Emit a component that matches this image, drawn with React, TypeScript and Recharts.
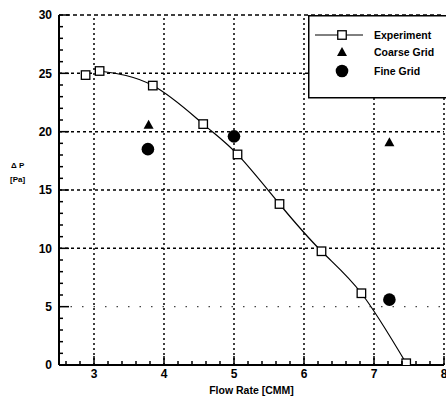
import React from 'react';
import { ComposedChart, Line, Scatter, XAxis, YAxis, ReferenceLine, Legend } from 'recharts';

const experimentX = [2.88, 3.08, 3.84, 4.56, 5.05, 5.65, 6.25, 6.82, 7.46];
const experimentY = [24.85, 25.2, 23.95, 20.65, 18.05, 13.8, 9.75, 6.15, 0.15];
const coarseX = [3.78, 7.22];
const coarseY = [20.6, 19.1];
const fineX = [3.77, 5.0, 7.22];
const fineY = [18.5, 19.6, 5.6];

const xGridLines = [3, 4, 5, 6, 7, 8];
const yGridLines = [5, 10, 15, 20, 25, 30];
const xTicks = Array.from({ length: 28 }, (_, i) => Math.round((2.6 + 0.2 * i) * 10) / 10);
const yTicks = Array.from({ length: 31 }, (_, i) => i);

const experimentData = experimentX.map((x, i) => ({ x, y: experimentY[i] }));
const experimentLooseData = experimentData.slice(0, 1);
const experimentLineData = experimentData.slice(1);
const coarseData = coarseX.map((x, i) => ({ x, y: coarseY[i] }));
const fineData = fineX.map((x, i) => ({ x, y: fineY[i] }));

const FONT = '"Liberation Sans", Arial, sans-serif';

const isInt = (v: number) => Math.abs(v - Math.round(v)) < 1e-6;

const XTick = (props: any) => {
  const { x, y, payload } = props;
  const v = payload.value;
  const major = isInt(v);
  return (
    <g>
      <line x1={x} y1={y} x2={x} y2={y - (major ? 9 : 4)} stroke="#000" strokeWidth={1.5} />
      {major && (
        <text x={x} y={y + 13} textAnchor="middle" fontFamily={FONT} fontWeight="bold" fontSize={12} fill="#000">
          {v}
        </text>
      )}
    </g>
  );
};

const YTick = (props: any) => {
  const { x, y, payload } = props;
  const v = payload.value;
  const major = v % 5 === 0;
  return (
    <g>
      <line x1={x} y1={y} x2={x + (major ? 10 : 4)} y2={y} stroke="#000" strokeWidth={1.5} />
      {major && (
        <text x={x - 7} y={y + 4.3} textAnchor="end" fontFamily={FONT} fontWeight="bold" fontSize={12} fill="#000">
          {v}
        </text>
      )}
    </g>
  );
};

const SQ = 8.5;

const SquareDot = (props: any) => {
  const { cx, cy, index } = props;
  if (cx == null || cy == null) return <g key={`sq-${index}`} />;
  return <rect key={`sq-${index}`} x={cx - SQ / 2} y={cy - SQ / 2} width={SQ} height={SQ} fill="#fff" stroke="#000" strokeWidth={1.3} />;
};

const SquareShape = (props: any) => {
  const { cx, cy } = props;
  return <rect x={cx - SQ / 2} y={cy - SQ / 2} width={SQ} height={SQ} fill="#fff" stroke="#000" strokeWidth={1.3} />;
};

const TriangleShape = (props: any) => {
  const { cx, cy } = props;
  return <polygon points={`${cx},${cy - 5} ${cx - 5},${cy + 4} ${cx + 5},${cy + 4}`} fill="#000" />;
};

const CircleShape = (props: any) => {
  const { cx, cy } = props;
  return <circle cx={cx} cy={cy} r={6.3} fill="#000" />;
};

const LegendBox = () => (
  <svg width={140} height={84} style={{ display: 'block' }}>
    <rect x={0.75} y={0.75} width={150} height={82} fill="#fff" stroke="#000" strokeWidth={1.5} />
    <line x1={7} y1={20} x2={55} y2={20} stroke="#000" strokeWidth={1} />
    <rect x={29.75} y={15.75} width={SQ} height={SQ} fill="#fff" stroke="#000" strokeWidth={1.3} />
    <text x={66} y={24} fontFamily={FONT} fontWeight="bold" fontSize={10.5} fill="#000">Experiment</text>
    <polygon points="34,32 29,41 39,41" fill="#000" />
    <text x={66} y={41} fontFamily={FONT} fontWeight="bold" fontSize={10.5} fill="#000">Coarse Grid</text>
    <circle cx={34} cy={56} r={6.3} fill="#000" />
    <text x={66} y={60} fontFamily={FONT} fontWeight="bold" fontSize={10.5} fill="#000">Fine Grid</text>
  </svg>
);

export default function App() {
  return (
    <div style={{ position: 'absolute', left: 0, top: 0, width: 446, height: 398, background: '#fff' }}>
      <ComposedChart width={446} height={398} margin={{ top: 15, right: 2, bottom: 0, left: 0 }}>
        <XAxis
          type="number"
          dataKey="x"
          domain={[2.5, 8]}
          allowDataOverflow
          ticks={xTicks}
          interval={0}
          tickSize={0}
          tickMargin={0}
          tickLine={false}
          tick={<XTick />}
          height={33}
          axisLine={{ stroke: '#000', strokeWidth: 2 }}
          label={{
            content: (p: any) => {
              const vb = p.viewBox;
              return (
                <text x={vb.x + vb.width / 2} y={vb.y + 29} textAnchor="middle" fontFamily={FONT} fontWeight="bold" fontSize={10.5} fill="#000">
                  Flow Rate [CMM]
                </text>
              );
            },
          }}
        />
        <YAxis
          type="number"
          dataKey="y"
          domain={[0, 30]}
          allowDataOverflow
          ticks={yTicks}
          interval={0}
          tickSize={0}
          tickMargin={0}
          tickLine={false}
          tick={<YTick />}
          width={59}
          axisLine={{ stroke: '#000', strokeWidth: 2 }}
          label={{
            content: () => (
              <g>
                <text x={11} y={168} fontFamily={FONT} fontWeight="bold" fontSize={8} fill="#000">Δ P</text>
                <text x={10} y={182} fontFamily={FONT} fontWeight="bold" fontSize={8} fill="#000">[Pa]</text>
              </g>
            ),
          }}
        />
        {yGridLines.map((v) => (
          <ReferenceLine
            key={`h${v}`}
            y={v}
            stroke={v === 5 ? '#444' : '#000'}
            strokeWidth={v === 5 ? 1.2 : 1.5}
            strokeDasharray={v === 5 ? '1.5 10' : v === 30 ? '4 3' : '3 3'}
          />
        ))}
        {xGridLines.map((v) => (
          <ReferenceLine key={`v${v}`} x={v} stroke="#000" strokeWidth={1.5} strokeDasharray="2 3" />
        ))}
        <Line
          data={experimentLineData}
          dataKey="y"
          type="natural"
          stroke="#000"
          strokeWidth={1.2}
          dot={SquareDot}
          activeDot={false}
          isAnimationActive={false}
          name="Experiment"
        />
        <Scatter data={experimentLooseData} dataKey="y" shape={SquareShape} isAnimationActive={false} name="Experiment start" legendType="none" />
        <Scatter data={coarseData} dataKey="y" shape={TriangleShape} isAnimationActive={false} name="Coarse Grid" />
        <Scatter data={fineData} dataKey="y" shape={CircleShape} isAnimationActive={false} name="Fine Grid" />
        <Legend
          layout="horizontal"
          verticalAlign="middle"
          align="center"
          content={<LegendBox />}
          wrapperStyle={{ position: 'absolute', top: 15, left: 308, width: 140, height: 84, margin: 0, padding: 0 }}
        />
      </ComposedChart>
    </div>
  );
}
